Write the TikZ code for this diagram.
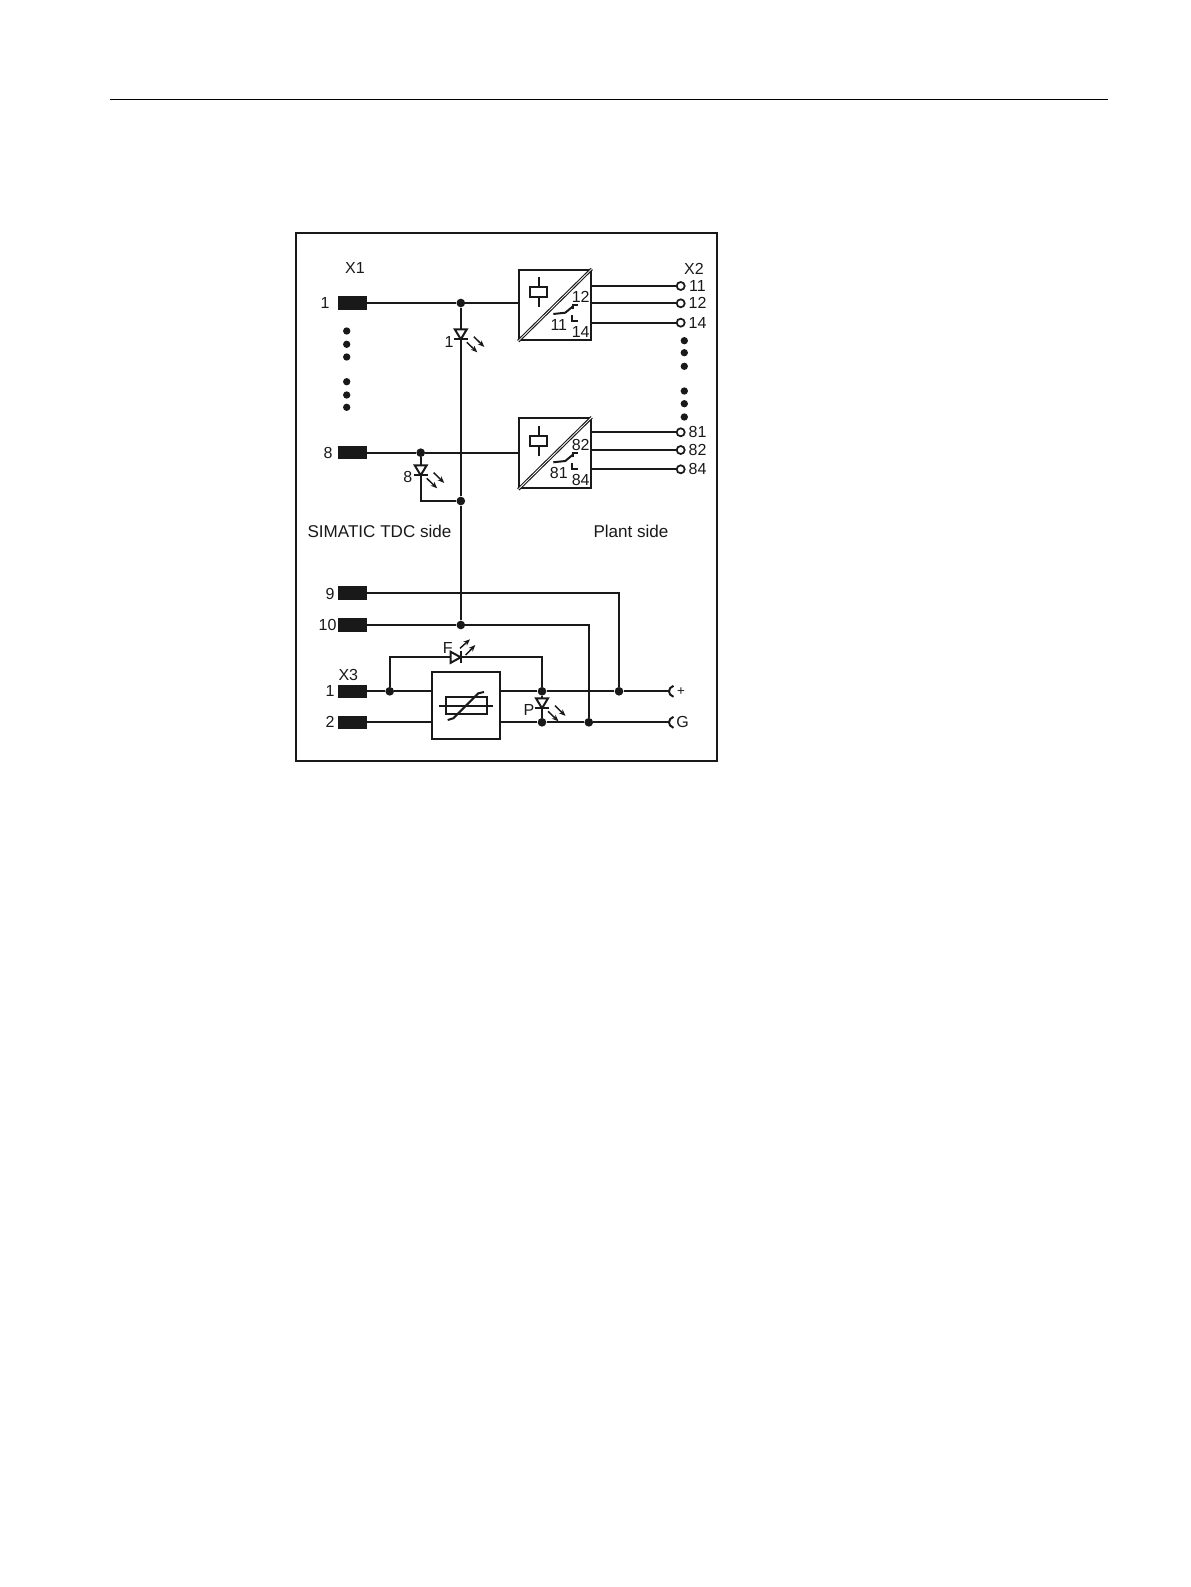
\documentclass[tikz,border=0pt]{standalone}
\usepackage{fontspec}
\setmainfont{Liberation Sans}
\usetikzlibrary{arrows.meta}
\definecolor{inkc}{gray}{0.1}
\tikzset{
    wire/.style={draw=inkc, line width=1.5pt},
    lbl/.style={inner sep=0pt, text=inkc, font=\fontsize{12}{14}\selectfont},
    sidelbl/.style={inner sep=0pt, text=inkc, font=\fontsize{12.8}{15}\selectfont},
    term/.style={fill=inkc, minimum width=21.5pt, minimum height=10pt, inner sep=0pt},
    jdot/.style={circle, fill=inkc, minimum size=6.5pt, inner sep=0pt},
    vdot/.style={circle, fill=inkc, minimum size=5.5pt, inner sep=0pt},
    outc/.style={circle, draw=inkc, line width=1.3pt, fill=white, minimum size=6pt, inner sep=0pt},
    unitbox/.style={draw=inkc, line width=1.6pt, fill=white, inner sep=0pt},
    beam/.style={-{Stealth[length=5pt,width=4pt]}, draw=inkc, fill=inkc, line width=1.1pt},
    ledv/.pic={
        \draw[wire, fill=white] (-6, -10) -- (6, -10) -- (0, 0) -- cycle; \draw[wire] (-7, 0) -- (7, 0);
        \draw[beam] (6, 3) -- (16.5, 13); \draw[beam] (13, -2.6) -- (23.5, 7.6);
    },
    ledh/.pic={
        \draw[wire, fill=white] (-10, -5.5) -- (-10, 5.5) -- (0, 0) -- cycle; \draw[wire] (0, -6) -- (0, 6);
        \draw[beam] (-0.7, -9) -- (9.3, -18); \draw[beam] (5, -2.3) -- (14.6, -12.3);
    },
    capend/.pic={
        \draw[wire] (4, -5.5) .. controls (-2, -3.5) and (-2, 3.5) .. (4, 5.5);
    }
}
% box, x, y, upper, middle, lower label
\newcommand{\relayunit}[6]{
    \node[unitbox, minimum width=53.5pt, minimum height=52.5pt] (#1) at (#2+35.7, #3+35) {};
    \draw[draw=inkc, line width=0.85pt, double=white, double distance=0.6pt] (#1.south west) -- (#1.north east);
    \begin{scope}[shift={(#2, #3)}]
        \draw[wire] (19.7, 7.3) -- (19.7, 37.3); \draw[wire, fill=white] (11, 17.3) rectangle (28, 27.3);
        \draw[wire] (34, 44) -- (46, 42.7) -- (54, 36); \draw[wire] (53.4, 39) -- (53.4, 35) -- (58.3, 35);
        \draw[wire] (53, 45) -- (53, 50.7) -- (58.3, 50.7);
        \node[lbl] at (61.4, 26.7) {#4}; \node[lbl] at (39.5, 55) {#5}; \node[lbl] at (61.4, 61.7) {#6};
    \end{scope}
}
\begin{document}
\begin{tikzpicture}[x=0.75pt, y=-0.75pt]
    \useasboundingbox (0, 0) rectangle (1191, 1587);
    \draw[line width=0.9pt] (110, 99.3) -- (1108, 99.3);
    \draw[draw=inkc, line width=1.5pt] (296, 233) rectangle (716.5, 761);

    % left terminals
    \node[term] (t1) at (352.5, 303) {}; \node[term] (t8) at (352.5, 452.7) {};
    \node[term] (t9) at (352.5, 593) {}; \node[term] (t10) at (352.5, 625) {};
    \node[term] (x3a) at (352.5, 691.3) {}; \node[term] (x3b) at (352.5, 722.3) {};
    \node[lbl] at (355, 268.3) {X1}; \node[lbl] at (348.3, 675) {X3};
    \node[lbl] at (325, 303) {1}; \node[lbl] at (328, 452.7) {8};
    \node[lbl] at (330, 593.7) {9}; \node[lbl] at (327.5, 625) {10};
    \node[lbl] at (330, 691.3) {1}; \node[lbl] at (330, 722.3) {2};
    \foreach \yy in {331, 344.3, 357, 381.7, 395, 407.3} \node[vdot] at (346.7, \yy) {};
    \foreach \yy in {340.7, 352.7, 366.3, 391, 403.7, 417} \node[vdot] at (684.3, \yy) {};

    % relays
    \relayunit{rel1}{519.3}{270}{12}{11}{14}
    \relayunit{rel8}{519.3}{418.3}{82}{81}{84}

    \foreach \nm/\yy/\tx in {o11/286/11, o12/303.3/12, o14/322.7/14, o81/432.3/81, o82/450/82, o84/469.3/84} {
        \node[outc] (\nm) at (680.7, \yy) {};
        \node[lbl] at (697.5, \yy) {\tx};
    }
    \node[lbl] at (694, 269) {X2};
    \draw[wire] (rel1.east |- o11) -- (o11); \draw[wire] (rel1.east |- o12) -- (o12); \draw[wire] (rel1.east |- o14) -- (o14);
    \draw[wire] (rel8.east |- o81) -- (o81); \draw[wire] (rel8.east |- o82) -- (o82); \draw[wire] (rel8.east |- o84) -- (o84);

    % junctions
    \node[jdot] (j1) at (460.8, 303) {}; \node[jdot] (j8) at (420.7, 452.7) {};
    \node[jdot] (jm) at (460.8, 501) {}; \node[jdot] (jt) at (460.8, 625) {};
    \node[jdot] (ja) at (389.7, 691.3) {}; \node[jdot] (jb) at (542, 691.3) {};
    \node[jdot] (jc) at (619, 691.3) {}; \node[jdot] (jd) at (542, 722.3) {};
    \node[jdot] (je) at (588.8, 722.3) {};
    \coordinate (cplus) at (669.5, 691.3); \coordinate (cg) at (669.5, 722.3);

    \draw[wire] (t1) -- (j1) -- (rel1.west |- j1);
    \draw[wire] (t8) -- (j8) -- (rel8.west |- j8);
    \draw[wire] (j1) -- (jm) -- (jt);
    \draw[wire] (j8) -- (j8 |- jm) -- (jm);
    \draw[wire] (t9.east) -- (jc |- t9) -- (jc);
    \draw[wire] (t10) -- (jt) -- (je |- jt) -- (je);

    % varistor
    \node[unitbox, minimum width=50.7pt, minimum height=50.2pt] (var) at (466.2, 705.8) {};
    \draw[wire] (x3a) -- (ja) -- (var.west |- ja); \draw[wire] (x3b) -- (var.west |- x3b);
    \draw[wire] (var.east |- jb) -- (jb) -- (jc) -- (cplus);
    \draw[wire] (var.east |- jd) -- (jd) -- (je) -- (cg);
    \draw[wire] (ja) -- (ja |- 0, 657.3) -- (jb |- 0, 657.3) -- (jb);
    \draw[wire] (jb) -- (jd);
    \draw[wire] (445.7, 697.3) rectangle (486.7, 714);
    \draw[wire] (439, 706.3) -- (493.3, 706.3);
    \draw[wire] (447.7, 720) -- (453.3, 718.3) -- (478.3, 693.3) -- (484, 692);

    % leds
    \pic at (460.8, 339.3) {ledv}; \pic at (420.7, 475.3) {ledv};
    \pic at (542, 708.3) {ledv}; \pic at (460.7, 657.3) {ledh};
    \node[lbl] at (449, 341.7) {1}; \node[lbl] at (407.7, 477) {8};
    \node[lbl] at (529, 710) {P}; \node[lbl] at (447.7, 647.7) {F};

    % supply ends
    \pic at (cplus) {capend}; \pic at (cg) {capend};
    \node[lbl, font=\fontsize{10}{12}\selectfont] at (681, 691.3) {+}; \node[lbl] at (682.7, 722.3) {G};

    \node[sidelbl] at (379.5, 531.7) {SIMATIC TDC side};
    \node[sidelbl] at (631, 531.7) {Plant side};
\end{tikzpicture}
\end{document}
